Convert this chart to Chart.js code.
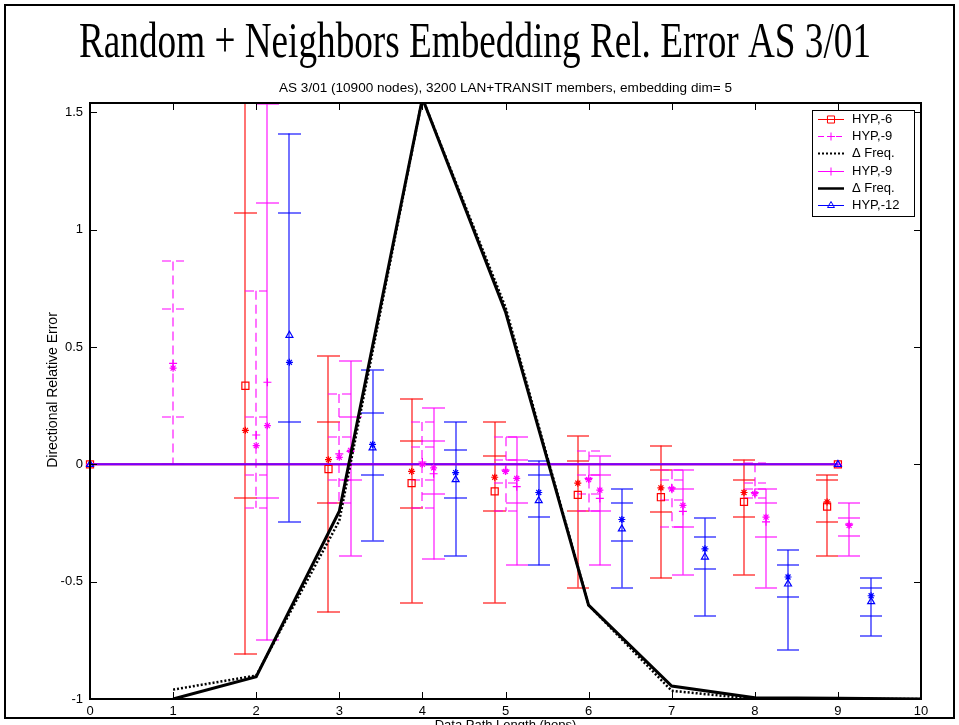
<!DOCTYPE html>
<html>
<head>
<meta charset="utf-8">
<title>Random + Neighbors Embedding Rel. Error AS 3/01</title>
<script src="https://cdn.jsdelivr.net/npm/chart.js@4.4.1/dist/chart.umd.min.js"></script>
<style>
  html, body { margin: 0; padding: 0; background: #fff; }
  canvas { display: block; }
</style>
</head>
<body>
<canvas id="chart" width="959" height="725"></canvas>
<script>
// axis ticks
const xTicks = [0, 1, 2, 3, 4, 5, 6, 7, 8, 9, 10];
const yTicks = [-1, -0.5, 0, 0.5, 1, 1.5];

// delta frequency curves (path length 1..10)
const freqX = [1, 2, 3, 4, 5, 6, 7, 8, 9, 10];
const freqSolid = [-1.0, -0.905, -0.2, 1.56, 0.65, -0.6, -0.945, -0.995, -0.997, -1.0];
const freqDotted = [-0.96, -0.9, -0.24, 1.56, 0.67, -0.6, -0.965, -1.0, -1.0, -1.0];

// HYP reference lines at zero
const hypX = [0, 9];
const hypY = [0, 0];

// HYP,-6 (red)
const redX = [1.87, 2.87, 3.87, 4.87, 5.87, 6.87, 7.87, 8.87];
const redOuterLo = [-0.81, -0.63, -0.59, -0.59, -0.525, -0.485, -0.47, -0.39];
const redOuterHi = [1.9, 0.46, 0.28, 0.18, 0.12, 0.08, 0.02, -0.045];
const redInnerLo = [-0.145, -0.165, -0.185, -0.2, -0.2, -0.205, -0.225, -0.245];
const redInnerHi = [1.07, 0.18, 0.1, 0.035, 0.015, -0.025, -0.065, -0.065];
const redSquare = [0.335, -0.02, -0.08, -0.115, -0.13, -0.14, -0.16, -0.18];
const redStar = [0.145, 0.02, -0.03, -0.055, -0.08, -0.1, -0.12, -0.16];

// HYP,-9 dashed (magenta)
const dashX = [1, 2, 3, 4, 5, 6, 7, 8];
const dashOuterLo = [0.0, -0.185, -0.165, -0.185, -0.2, -0.2, -0.265, -0.145];
const dashOuterHi = [0.865, 0.74, 0.3, 0.18, 0.115, 0.055, -0.025, 0.005];
const dashInnerLo = [0.2, -0.045, -0.065, -0.065, -0.08, -0.125, -0.15, -0.105];
const dashInnerHi = [0.66, 0.2, 0.115, 0.075, 0.02, -0.045, -0.065, -0.08];
const dashPlus = [0.43, 0.125, 0.045, 0.01, -0.025, -0.06, -0.1, -0.12];
const dashStar = [0.41, 0.08, 0.03, 0.0, -0.03, -0.065, -0.105, -0.125];

// HYP,-9 solid (magenta)
const magX = [2.135, 3.135, 4.135, 5.135, 6.135, 7.135, 8.135, 9.135];
const magOuterLo = [-0.75, -0.39, -0.405, -0.43, -0.43, -0.47, -0.525, -0.39];
const magOuterHi = [1.535, 0.44, 0.24, 0.115, 0.035, -0.025, -0.105, -0.165];
const magInnerLo = [-0.145, -0.065, -0.125, -0.165, -0.2, -0.265, -0.31, -0.305];
const magInnerHi = [1.115, 0.2, 0.1, 0.02, -0.045, -0.105, -0.165, -0.23];
const magPlus = [0.35, 0.055, -0.04, -0.095, -0.145, -0.2, -0.245, -0.255];
const magStar = [0.165, 0.06, -0.015, -0.06, -0.11, -0.175, -0.225, -0.26];

// HYP,-12 (blue)
const blueX = [2.4, 3.4, 4.4, 5.4, 6.4, 7.4, 8.4, 9.4];
const blueOuterLo = [-0.245, -0.325, -0.39, -0.43, -0.525, -0.645, -0.79, -0.73];
const blueOuterHi = [1.41, 0.4, 0.18, 0.015, -0.105, -0.23, -0.365, -0.485];
const blueInnerLo = [0.18, -0.045, -0.145, -0.225, -0.325, -0.445, -0.565, -0.645];
const blueInnerHi = [1.07, 0.22, 0.06, -0.045, -0.165, -0.31, -0.43, -0.525];
const blueTri = [0.55, 0.07, -0.065, -0.155, -0.275, -0.395, -0.51, -0.585];
const blueStar = [0.435, 0.085, -0.035, -0.12, -0.235, -0.36, -0.48, -0.56];

const legendLabels = ['HYP,-6', 'HYP,-9', '\u0394 Freq.', 'HYP,-9', '\u0394 Freq.', 'HYP,-12'];

const SANS = 'Arial, "Liberation Sans", Helvetica, sans-serif';
const SERIF = '"Times New Roman", "Liberation Serif", serif';
const RED = '#ff0000';
const MAGENTA = '#ff00ff';
const BLUE = '#0000ff';
const CAP_HALF = 0.135; // half cap width in x units

const errorGroups = [
  { color: RED, dash: [], x: redX, ranges: [[redOuterLo, redOuterHi], [redInnerLo, redInnerHi]] },
  { color: MAGENTA, dash: [9, 5], x: dashX, ranges: [[dashOuterLo, dashOuterHi], [dashInnerLo, dashInnerHi]] },
  { color: MAGENTA, dash: [], x: magX, ranges: [[magOuterLo, magOuterHi], [magInnerLo, magInnerHi]] },
  { color: BLUE, dash: [], x: blueX, ranges: [[blueOuterLo, blueOuterHi], [blueInnerLo, blueInnerHi]] },
];

const legendStyles = [
  { color: RED, width: 1, dash: [], marker: 'rect', radius: 5 },
  { color: MAGENTA, width: 1, dash: [6, 3], marker: 'cross', radius: 4 },
  { color: '#000', width: 2, dash: [2, 2], marker: null },
  { color: MAGENTA, width: 1, dash: [], marker: 'cross', radius: 4 },
  { color: '#000', width: 2.5, dash: [], marker: null },
  { color: BLUE, width: 1, dash: [], marker: 'triangle', radius: 4 },
];

const pts = (xs, ys) => xs.map((x, i) => ({ x, y: ys[i] }));

function markerSet(label, xs, ys, color, style, radius) {
  return {
    label,
    data: pts(xs, ys),
    showLine: false,
    pointStyle: style,
    pointRadius: radius,
    pointBorderColor: color,
    pointBackgroundColor: 'rgba(0,0,0,0)',
    pointBorderWidth: 1.2,
    clip: false,
  };
}

function zeroLine(label, lineColor, pointColor, style, radius) {
  return {
    label,
    data: pts(hypX, hypY),
    showLine: true,
    borderColor: lineColor,
    borderWidth: 2,
    pointStyle: style,
    pointRadius: radius,
    pointBorderColor: pointColor,
    pointBackgroundColor: 'rgba(0,0,0,0)',
    pointBorderWidth: 1.2,
    clip: false,
  };
}

function drawMarker(ctx, style, radius, x, y) {
  const helpers = Chart.helpers;
  if (helpers && helpers.drawPoint) {
    helpers.drawPoint(ctx, { pointStyle: style, radius, borderWidth: 1, rotation: 0 }, x, y);
  }
}

const whiteBackground = {
  id: 'whiteBackground',
  beforeDraw(chart) {
    const { ctx, width, height } = chart;
    ctx.save();
    ctx.fillStyle = '#fff';
    ctx.fillRect(0, 0, width, height);
    ctx.restore();
  },
};

// vertical error bars with caps: one stem per x, a cap at every range end
const errorBarPlugin = {
  id: 'errorBars',
  beforeDatasetsDraw(chart) {
    const { ctx, chartArea: a, scales } = chart;
    const xs = scales.x;
    const ys = scales.y;
    ctx.save();
    ctx.beginPath();
    ctx.rect(a.left, a.top, a.right - a.left, a.bottom - a.top);
    ctx.clip();
    ctx.lineWidth = 1.1;
    errorGroups.forEach((g) => {
      ctx.strokeStyle = g.color;
      ctx.setLineDash(g.dash);
      g.x.forEach((xv, i) => {
        const px = Math.round(xs.getPixelForValue(xv));
        const left = Math.round(xs.getPixelForValue(xv - CAP_HALF));
        const right = Math.round(xs.getPixelForValue(xv + CAP_HALF));
        const los = g.ranges.map((r) => r[0][i]);
        const his = g.ranges.map((r) => r[1][i]);
        ctx.beginPath();
        ctx.moveTo(px, ys.getPixelForValue(Math.max(...his)));
        ctx.lineTo(px, ys.getPixelForValue(Math.min(...los)));
        ctx.stroke();
        los.concat(his).forEach((v) => {
          const py = Math.round(ys.getPixelForValue(v));
          ctx.beginPath();
          ctx.moveTo(left, py);
          ctx.lineTo(right, py);
          ctx.stroke();
        });
      });
    });
    ctx.restore();
  },
};

// axes box with inward ticks on all four sides
const axesBoxPlugin = {
  id: 'axesBox',
  afterDatasetsDraw(chart) {
    const { ctx, chartArea: a, scales } = chart;
    const len = 7;
    ctx.save();
    ctx.strokeStyle = '#000';
    ctx.lineWidth = 2;
    ctx.strokeRect(a.left, a.top, a.right - a.left, a.bottom - a.top);
    ctx.lineWidth = 1;
    ctx.beginPath();
    scales.x.ticks.forEach((t) => {
      const px = Math.round(scales.x.getPixelForValue(t.value)) + 0.5;
      ctx.moveTo(px, a.bottom);
      ctx.lineTo(px, a.bottom - len);
      ctx.moveTo(px, a.top);
      ctx.lineTo(px, a.top + len);
    });
    scales.y.ticks.forEach((t) => {
      const py = Math.round(scales.y.getPixelForValue(t.value)) + 0.5;
      ctx.moveTo(a.left, py);
      ctx.lineTo(a.left + len, py);
      ctx.moveTo(a.right, py);
      ctx.lineTo(a.right - len, py);
    });
    ctx.stroke();
    ctx.restore();
  },
};

function fillFitted(ctx, text, font, cx, baseline, width) {
  ctx.font = font;
  const sx = width / ctx.measureText(text).width;
  ctx.save();
  ctx.translate(cx, baseline);
  ctx.scale(sx, 1);
  ctx.textAlign = 'center';
  ctx.textBaseline = 'alphabetic';
  ctx.fillText(text, 0, 0);
  ctx.restore();
}

// titles, axis labels, legend box and the outer frame
const figureTextPlugin = {
  id: 'figureText',
  afterDraw(chart) {
    const { ctx, chartArea: a } = chart;
    ctx.save();
    ctx.fillStyle = '#000';

    fillFitted(ctx, 'Random + Neighbors Embedding Rel. Error AS 3/01', `50px ${SERIF}`, 475, 57, 792);
    fillFitted(ctx, 'AS 3/01 (10900 nodes), 3200 LAN+TRANSIT members, embedding dim= 5',
      `12px ${SANS}`, (a.left + a.right) / 2, 92, 453);

    ctx.save();
    ctx.translate(53, 390);
    ctx.rotate(-Math.PI / 2);
    ctx.font = `14px ${SANS}`;
    ctx.textAlign = 'center';
    ctx.textBaseline = 'middle';
    ctx.fillText('Directional Relative Error', 0, 0);
    ctx.restore();

    ctx.font = `13px ${SANS}`;
    ctx.textAlign = 'center';
    ctx.textBaseline = 'top';
    ctx.fillText('Data Path Length (hops)', (a.left + a.right) / 2, 719);

    // legend
    const box = { left: 812, top: 110, right: 914, bottom: 216 };
    ctx.fillStyle = '#fff';
    ctx.fillRect(box.left, box.top, box.right - box.left, box.bottom - box.top);
    ctx.strokeStyle = '#000';
    ctx.lineWidth = 1;
    ctx.strokeRect(box.left + 0.5, box.top + 0.5, box.right - box.left, box.bottom - box.top);
    legendLabels.forEach((label, i) => {
      const st = legendStyles[i];
      const y = Math.round(box.top + 9 + i * 17.2) + 0.5;
      ctx.strokeStyle = st.color;
      ctx.lineWidth = st.width;
      ctx.setLineDash(st.dash);
      ctx.beginPath();
      ctx.moveTo(818, y);
      ctx.lineTo(844, y);
      ctx.stroke();
      ctx.setLineDash([]);
      if (st.marker) {
        ctx.strokeStyle = st.color;
        ctx.fillStyle = 'rgba(0,0,0,0)';
        ctx.lineWidth = 1;
        drawMarker(ctx, st.marker, st.radius, 831, y);
      }
      ctx.fillStyle = '#000';
      ctx.font = `13px ${SANS}`;
      ctx.textAlign = 'left';
      ctx.textBaseline = 'middle';
      ctx.fillText(label, 852, y);
    });

    // outer frame
    ctx.strokeStyle = '#000';
    ctx.lineWidth = 2;
    ctx.strokeRect(5, 5, 949, 713);
    ctx.restore();
  },
};

new Chart(document.getElementById('chart'), {
  type: 'scatter',
  data: {
    datasets: [
      {
        label: '\u0394 Freq.',
        data: pts(freqX, freqSolid),
        showLine: true,
        borderColor: '#000',
        borderWidth: 3,
        pointRadius: 0,
      },
      {
        label: '\u0394 Freq.',
        data: pts(freqX, freqDotted),
        showLine: true,
        borderColor: '#000',
        borderWidth: 2.5,
        borderDash: [2, 2],
        pointRadius: 0,
      },
      markerSet('HYP,-6 mean', redX, redStar, RED, 'star', 3.5),
      markerSet('HYP,-6', redX, redSquare, RED, 'rect', 5),
      markerSet('HYP,-9 mean', dashX, dashStar, MAGENTA, 'star', 3.5),
      markerSet('HYP,-9', dashX, dashPlus, MAGENTA, 'cross', 4),
      markerSet('HYP,-9 mean', magX, magStar, MAGENTA, 'star', 3.5),
      markerSet('HYP,-9', magX, magPlus, MAGENTA, 'cross', 4),
      markerSet('HYP,-12 mean', blueX, blueStar, BLUE, 'star', 3.5),
      markerSet('HYP,-12', blueX, blueTri, BLUE, 'triangle', 4),
      zeroLine('HYP,-12', 'rgba(0,0,255,0.55)', BLUE, 'triangle', 4),
      zeroLine('HYP,-9', MAGENTA, MAGENTA, 'cross', 4),
      zeroLine('HYP,-6', RED, RED, 'rect', 5),
    ],
  },
  plugins: [whiteBackground, errorBarPlugin, axesBoxPlugin, figureTextPlugin],
  options: {
    responsive: false,
    animation: false,
    devicePixelRatio: 1,
    events: [],
    layout: { padding: { left: 0, top: 103, right: 38, bottom: 0 } },
    scales: {
      x: {
        type: 'linear',
        min: 0,
        max: 10,
        afterBuildTicks: (scale) => { scale.ticks = xTicks.map((v) => ({ value: v })); },
        afterFit: (scale) => { scale.height = 26; },
        grid: { display: false, drawTicks: false },
        border: { display: false },
        ticks: { color: '#000', padding: 5, font: { family: SANS, size: 13 }, callback: (v) => String(v) },
      },
      y: {
        type: 'linear',
        min: -1,
        max: 1.54,
        afterBuildTicks: (scale) => { scale.ticks = yTicks.map((v) => ({ value: v })); },
        afterFit: (scale) => { scale.width = 90; },
        grid: { display: false, drawTicks: false },
        border: { display: false },
        ticks: { color: '#000', padding: 7, font: { family: SANS, size: 13 }, callback: (v) => String(v) },
      },
    },
    plugins: {
      legend: { display: false },
      tooltip: { enabled: false },
    },
  },
});
</script>
</body>
</html>
